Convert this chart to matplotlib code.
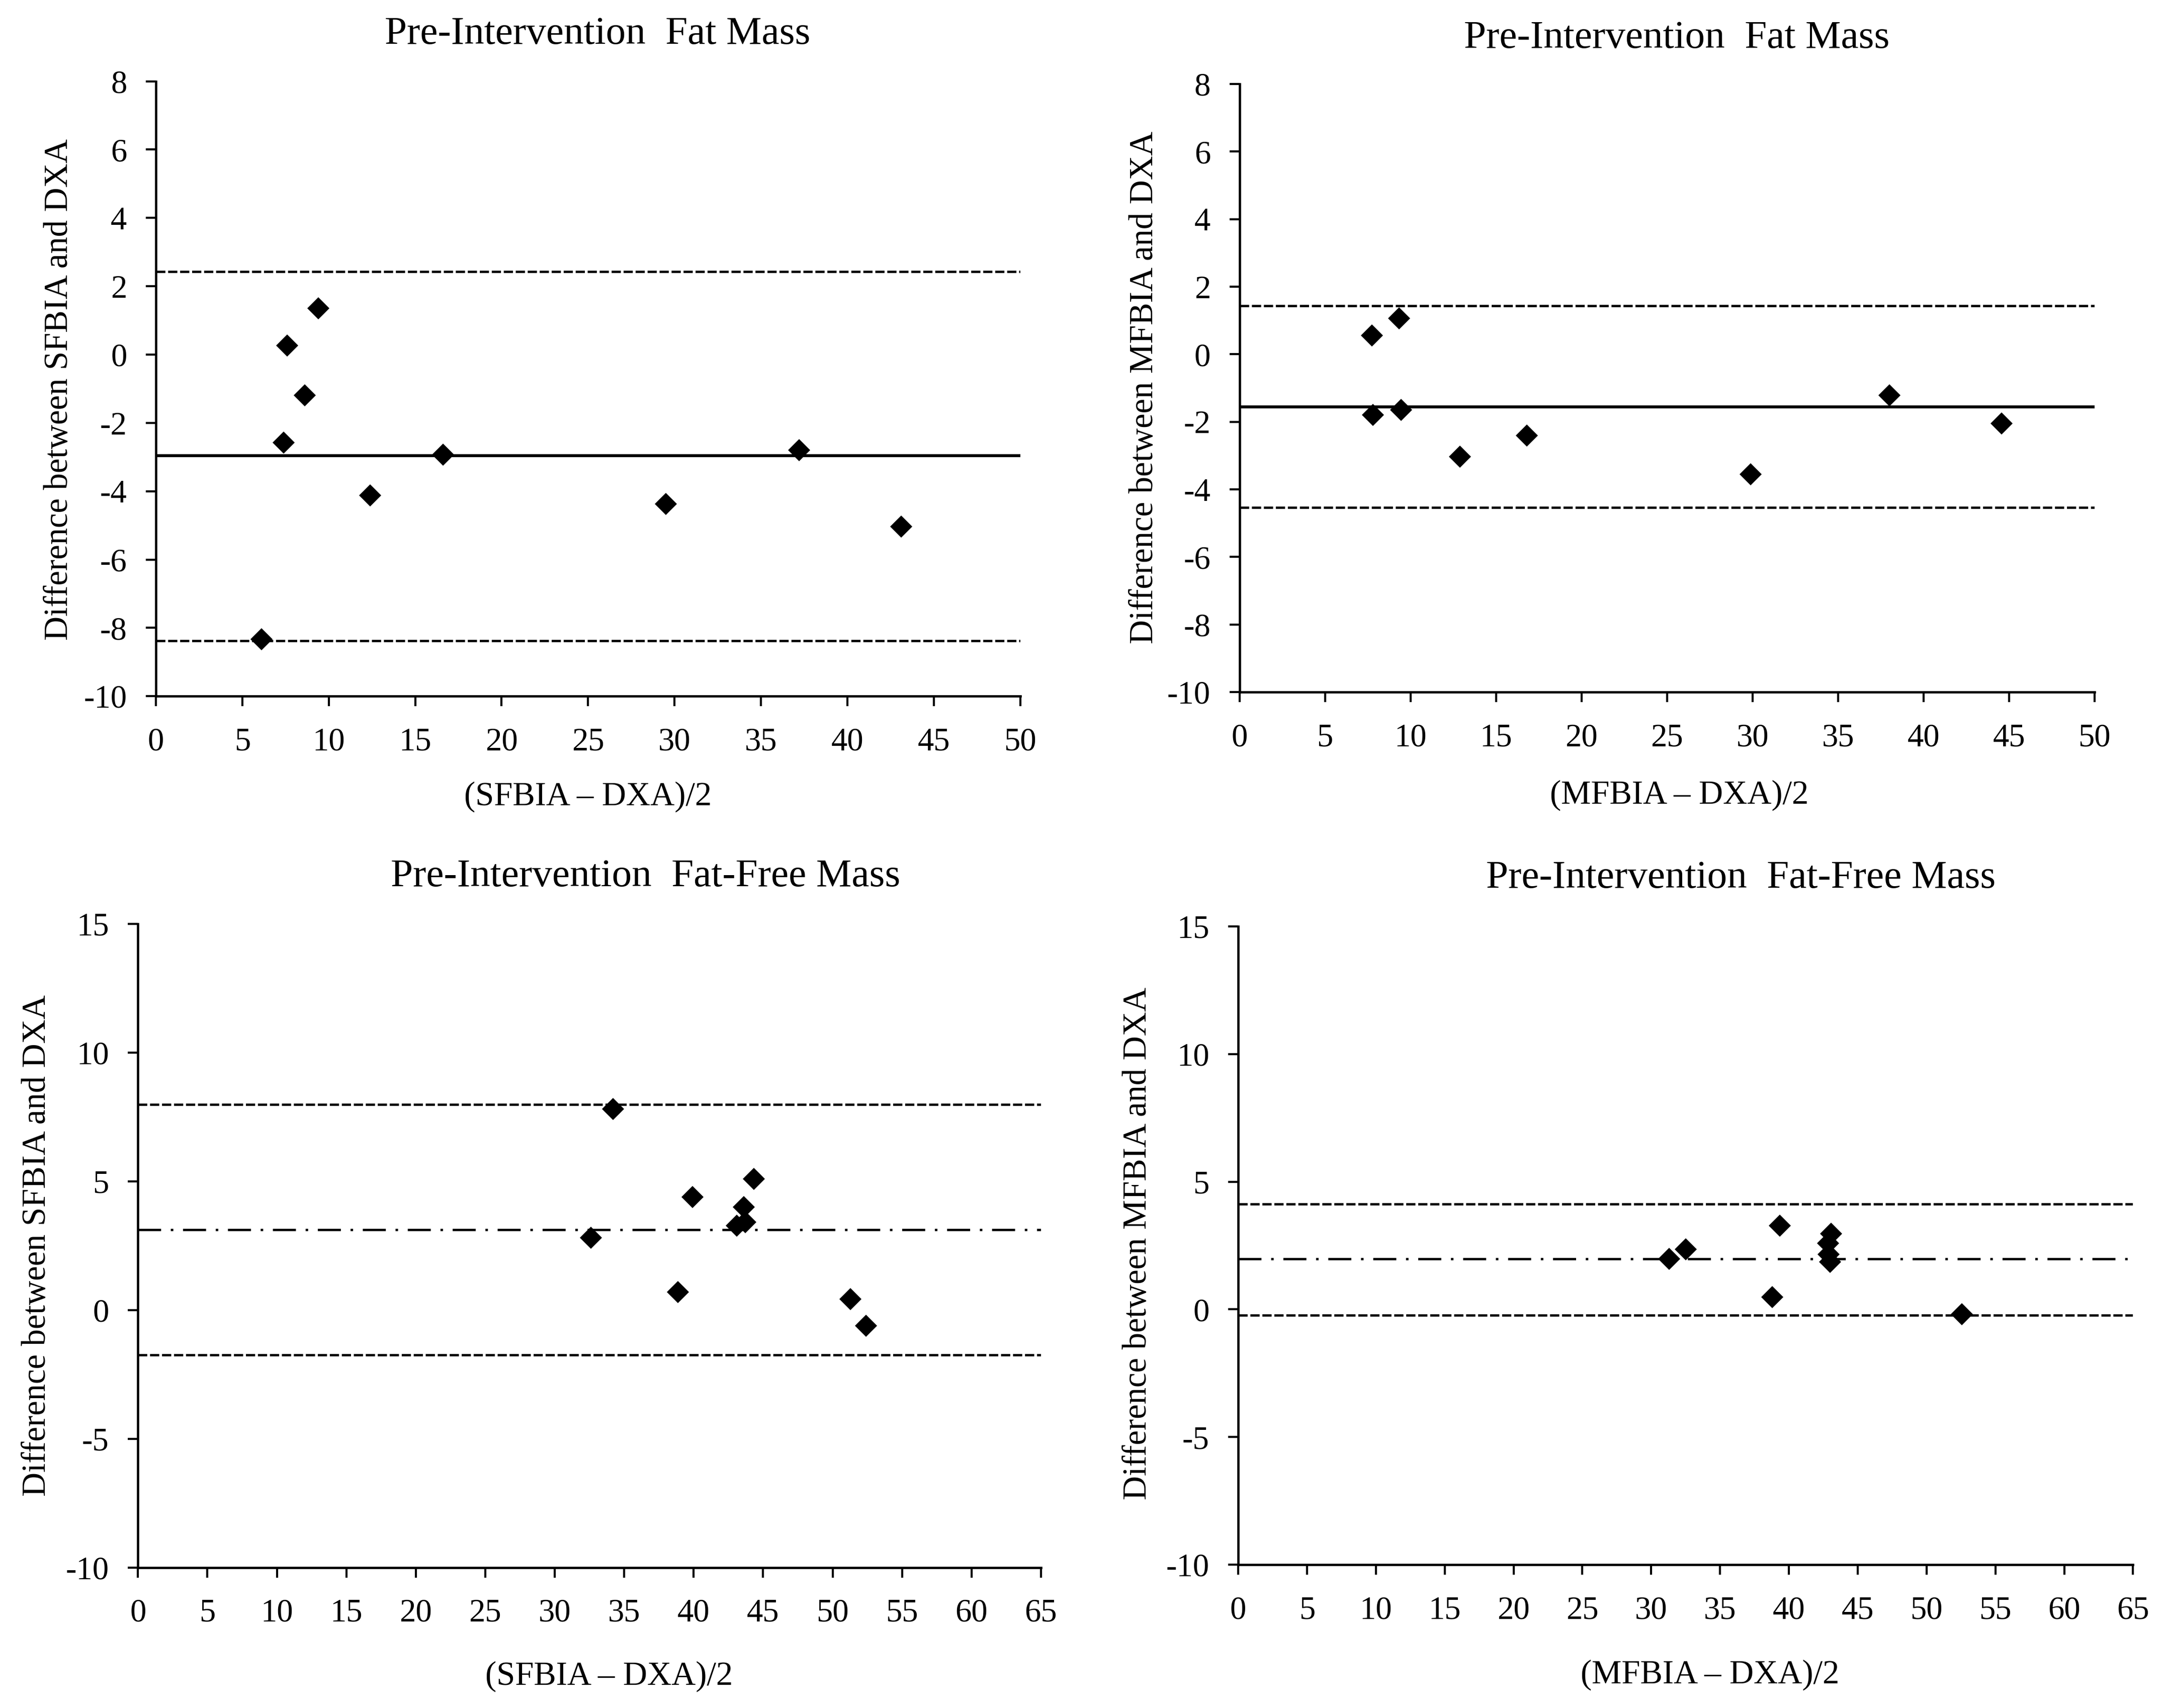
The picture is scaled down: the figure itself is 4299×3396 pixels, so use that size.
import numpy as np
from matplotlib import pyplot as plt

# fat mass, SFBIA vs DXA
fm_sf_mean = [6.1, 7.6, 8.6, 7.4, 9.4, 12.4, 16.6, 29.5, 37.2, 43.1]
fm_sf_diff = [-8.33, 0.26, -1.19, -2.57, 1.36, -4.12, -2.93, -4.37, -2.79, -5.03]
fm_sf_lines = [2.43, -2.96, -8.38]

# fat mass, MFBIA vs DXA
fm_mf_mean = [7.75, 9.33, 7.8, 9.45, 12.9, 16.8, 29.9, 38.0, 44.55]
fm_mf_diff = [0.55, 1.06, -1.8, -1.65, -3.03, -2.4, -3.55, -1.22, -2.05]
fm_mf_lines = [1.44, -1.55, -4.53]

# fat-free mass, SFBIA vs DXA
ffm_sf_mean = [34.2, 32.6, 39.9, 38.85, 44.35, 43.6, 43.7, 43.1, 51.3, 52.4]
ffm_sf_diff = [7.81, 2.81, 4.39, 0.69, 5.09, 4.0, 3.4, 3.28, 0.43, -0.62]
ffm_sf_lines = [7.98, 3.11, -1.75]

# fat-free mass, MFBIA vs DXA
ffm_mf_mean = [31.3, 32.5, 39.35, 38.8, 42.85, 43.05, 42.9, 43.0, 52.55]
ffm_mf_diff = [1.97, 2.35, 3.27, 0.49, 2.58, 2.97, 2.15, 1.86, -0.19]
ffm_mf_lines = [4.12, 1.98, -0.22]

title_fm = "Pre-Intervention  Fat Mass"
title_ffm = "Pre-Intervention  Fat-Free Mass"

plt.rcParams['font.family'] = ['Liberation Serif', 'DejaVu Serif']
plt.rcParams['axes.unicode_minus'] = False

DASH = (0, (4.0, 1.2))
DASHDOT = (0, (10, 4.2, 1.1, 4.2))


def bland_altman(ax, mean, diff, lines, mid_style, xmax, ylim, ystep):
    ax.plot(mean, diff, linestyle='none', marker='D', markersize=7.4,
            color='black', markeredgewidth=0, zorder=3)
    ax.axhline(lines[0], color='black', lw=1.1, ls=DASH)
    if mid_style == 'solid':
        ax.axhline(lines[1], color='black', lw=1.4, ls='-')
    else:
        ax.axhline(lines[1], color='black', lw=1.1, ls=DASHDOT)
    ax.axhline(lines[2], color='black', lw=1.1, ls=DASH)

    ax.set_xlim(0, xmax)
    ax.set_ylim(*ylim)
    ax.set_xticks(np.arange(0, xmax + 1, 5))
    ax.set_yticks(np.arange(ylim[0], ylim[1] + 1, ystep))
    for s in ['top', 'right']:
        ax.spines[s].set_visible(False)
    for s in ['left', 'bottom']:
        ax.spines[s].set_linewidth(1.1)
    ax.tick_params(direction='out', length=4.8, width=1.0, labelsize=15.5)
    ax.tick_params(axis='x', pad=10)
    ax.tick_params(axis='y', pad=9)


fig = plt.figure(figsize=(4299 / 300, 3396 / 300), dpi=300)

ax1 = fig.add_axes([0.0721, 0.5924, 0.3998, 0.3600])
bland_altman(ax1, fm_sf_mean, fm_sf_diff, fm_sf_lines, 'solid', 50, (-10, 8), 2)
ax2 = fig.add_axes([0.5733, 0.5948, 0.3955, 0.3560])
bland_altman(ax2, fm_mf_mean, fm_mf_diff, fm_mf_lines, 'solid', 50, (-10, 8), 2)
ax3 = fig.add_axes([0.0638, 0.0823, 0.4177, 0.3769])
bland_altman(ax3, ffm_sf_mean, ffm_sf_diff, ffm_sf_lines, 'dashdot', 65, (-10, 15), 5)
ax4 = fig.add_axes([0.5727, 0.0839, 0.4139, 0.3737])
bland_altman(ax4, ffm_mf_mean, ffm_mf_diff, ffm_mf_lines, 'dashdot', 65, (-10, 15), 5)

# titles and axis labels placed like the excel charts
fig.text(0.2765, 0.9798, title_fm, ha='center', va='center', fontsize=19)
fig.text(0.7755, 0.9774, title_fm, ha='center', va='center', fontsize=19)
fig.text(0.2985, 0.4867, title_ffm, ha='center', va='center', fontsize=19)
fig.text(0.8052, 0.4859, title_ffm, ha='center', va='center', fontsize=19)

fig.text(0.2720, 0.5335, "(SFBIA \u2013 DXA)/2", ha='center', va='center', fontsize=16)
fig.text(0.7768, 0.5343, "(MFBIA \u2013 DXA)/2", ha='center', va='center', fontsize=16)
fig.text(0.2816, 0.0186, "(SFBIA \u2013 DXA)/2", ha='center', va='center', fontsize=16)
fig.text(0.7908, 0.0194, "(MFBIA \u2013 DXA)/2", ha='center', va='center', fontsize=16)

fig.text(0.0274, 0.7720, "Difference between SFBIA and DXA", rotation=90,
         ha='center', va='center', fontsize=16)
fig.text(0.5293, 0.7732, "Difference between MFBIA and DXA", rotation=90,
         ha='center', va='center', fontsize=16)
fig.text(0.0172, 0.2708, "Difference between SFBIA and DXA", rotation=90,
         ha='center', va='center', fontsize=16)
fig.text(0.5262, 0.2720, "Difference between MFBIA and DXA", rotation=90,
         ha='center', va='center', fontsize=16)

fig.savefig("out.png", dpi=300)
